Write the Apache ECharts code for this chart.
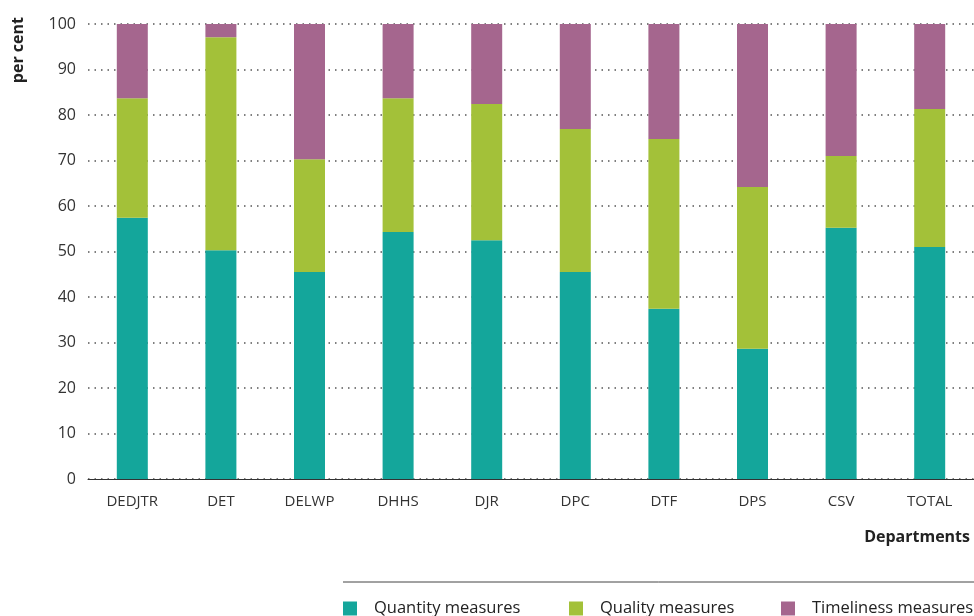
<!DOCTYPE html>
<html lang="en">
<head>
    <meta charset="UTF-8">
    <title>Performance measures by department</title>
    <script src="https://cdn.jsdelivr.net/npm/echarts@6.0.0/dist/echarts.min.js"></script>
    <style>
        body { margin: 0; background: #fff; }
    </style>
</head>
<body>
    <div id="main" style="width: 974px; height: 616px;"></div>

    <script type="text/javascript">
        const departments = ['DEDJTR', 'DET', 'DELWP', 'DHHS', 'DJR', 'DPC', 'DTF', 'DPS', 'CSV', 'TOTAL'];
        const quantity = [57.4, 50.3, 45.5, 54.3, 52.5, 45.5, 37.4, 28.6, 55.2, 51.0];
        const quality = [26.3, 46.8, 24.8, 29.4, 29.9, 31.4, 37.3, 35.6, 15.8, 30.3];
        const timeliness = [16.3, 2.9, 29.7, 16.3, 17.6, 23.1, 25.3, 35.8, 29.0, 18.7];
        const yTicks = [0, 10, 20, 30, 40, 50, 60, 70, 80, 90, 100];
        const seriesNames = ['Quantity measures', 'Quality measures', 'Timeliness measures'];

        const font = '"Open Sans", Roboto, sans-serif';

        let myChart = echarts.init(document.getElementById('main'));

        // one legend per item so each sits where the original has it
        const legendLeft = [343, 569, 781];
        let legends = seriesNames.map((name, i) => ({
            left: legendLeft[i],
            top: 600,
            padding: 0,
            itemWidth: 14,
            itemHeight: 14,
            icon: 'rect',
            textStyle: { fontSize: 16.5, color: '#222', fontFamily: font, padding: [0, 0, 0, 12] },
            data: [name]
        }));

        let options = {
            animation: false,
            textStyle: { fontFamily: font },
            grid: { left: 88, right: -4, top: 24, bottom: 137 },
            legend: legends,
            graphic: [{
                type: 'line',
                shape: { x1: 343, y1: 582, x2: 974, y2: 582 },
                style: { stroke: '#444', lineWidth: 1 }
            }, {
                type: 'text',
                left: 10,
                top: 17,
                rotation: Math.PI / 2,
                style: { text: 'per cent', fontSize: 16, fontWeight: 'bold', fill: '#222', fontFamily: font }
            }],
            xAxis: {
                type: 'category',
                data: departments,
                name: 'Departments',
                nameLocation: 'end',
                nameGap: 0,
                nameTextStyle: {
                    fontSize: 16, fontWeight: 'bold', color: '#222',
                    align: 'right', verticalAlign: 'top', padding: [50, 4, 0, 0]
                },
                axisLine: { lineStyle: { color: '#333' } },
                axisTick: { show: false },
                axisLabel: { fontSize: 15, color: '#333', margin: 15 }
            },
            yAxis: {
                type: 'value',
                min: 0,
                max: 100,
                interval: 10,
                axisLine: { show: false },
                axisTick: { show: false },
                axisLabel: {
                    fontSize: 16, color: '#333', margin: 12,
                    formatter: v => yTicks.includes(v) ? String(v) : ''
                },
                splitLine: { lineStyle: { type: [1.5, 5], color: '#555', width: 1.5 } }
            },
            series: [{
                name: seriesNames[0],
                type: 'bar',
                stack: 'all',
                barWidth: 31,
                itemStyle: { color: '#14a69b' },
                data: quantity
            }, {
                name: seriesNames[1],
                type: 'bar',
                stack: 'all',
                barWidth: 31,
                itemStyle: { color: '#a3c139' },
                data: quality
            }, {
                name: seriesNames[2],
                type: 'bar',
                stack: 'all',
                barWidth: 31,
                itemStyle: { color: '#a5668e' },
                data: timeliness
            }]
        };

        myChart.setOption(options);
    </script>
</body>
</html>
